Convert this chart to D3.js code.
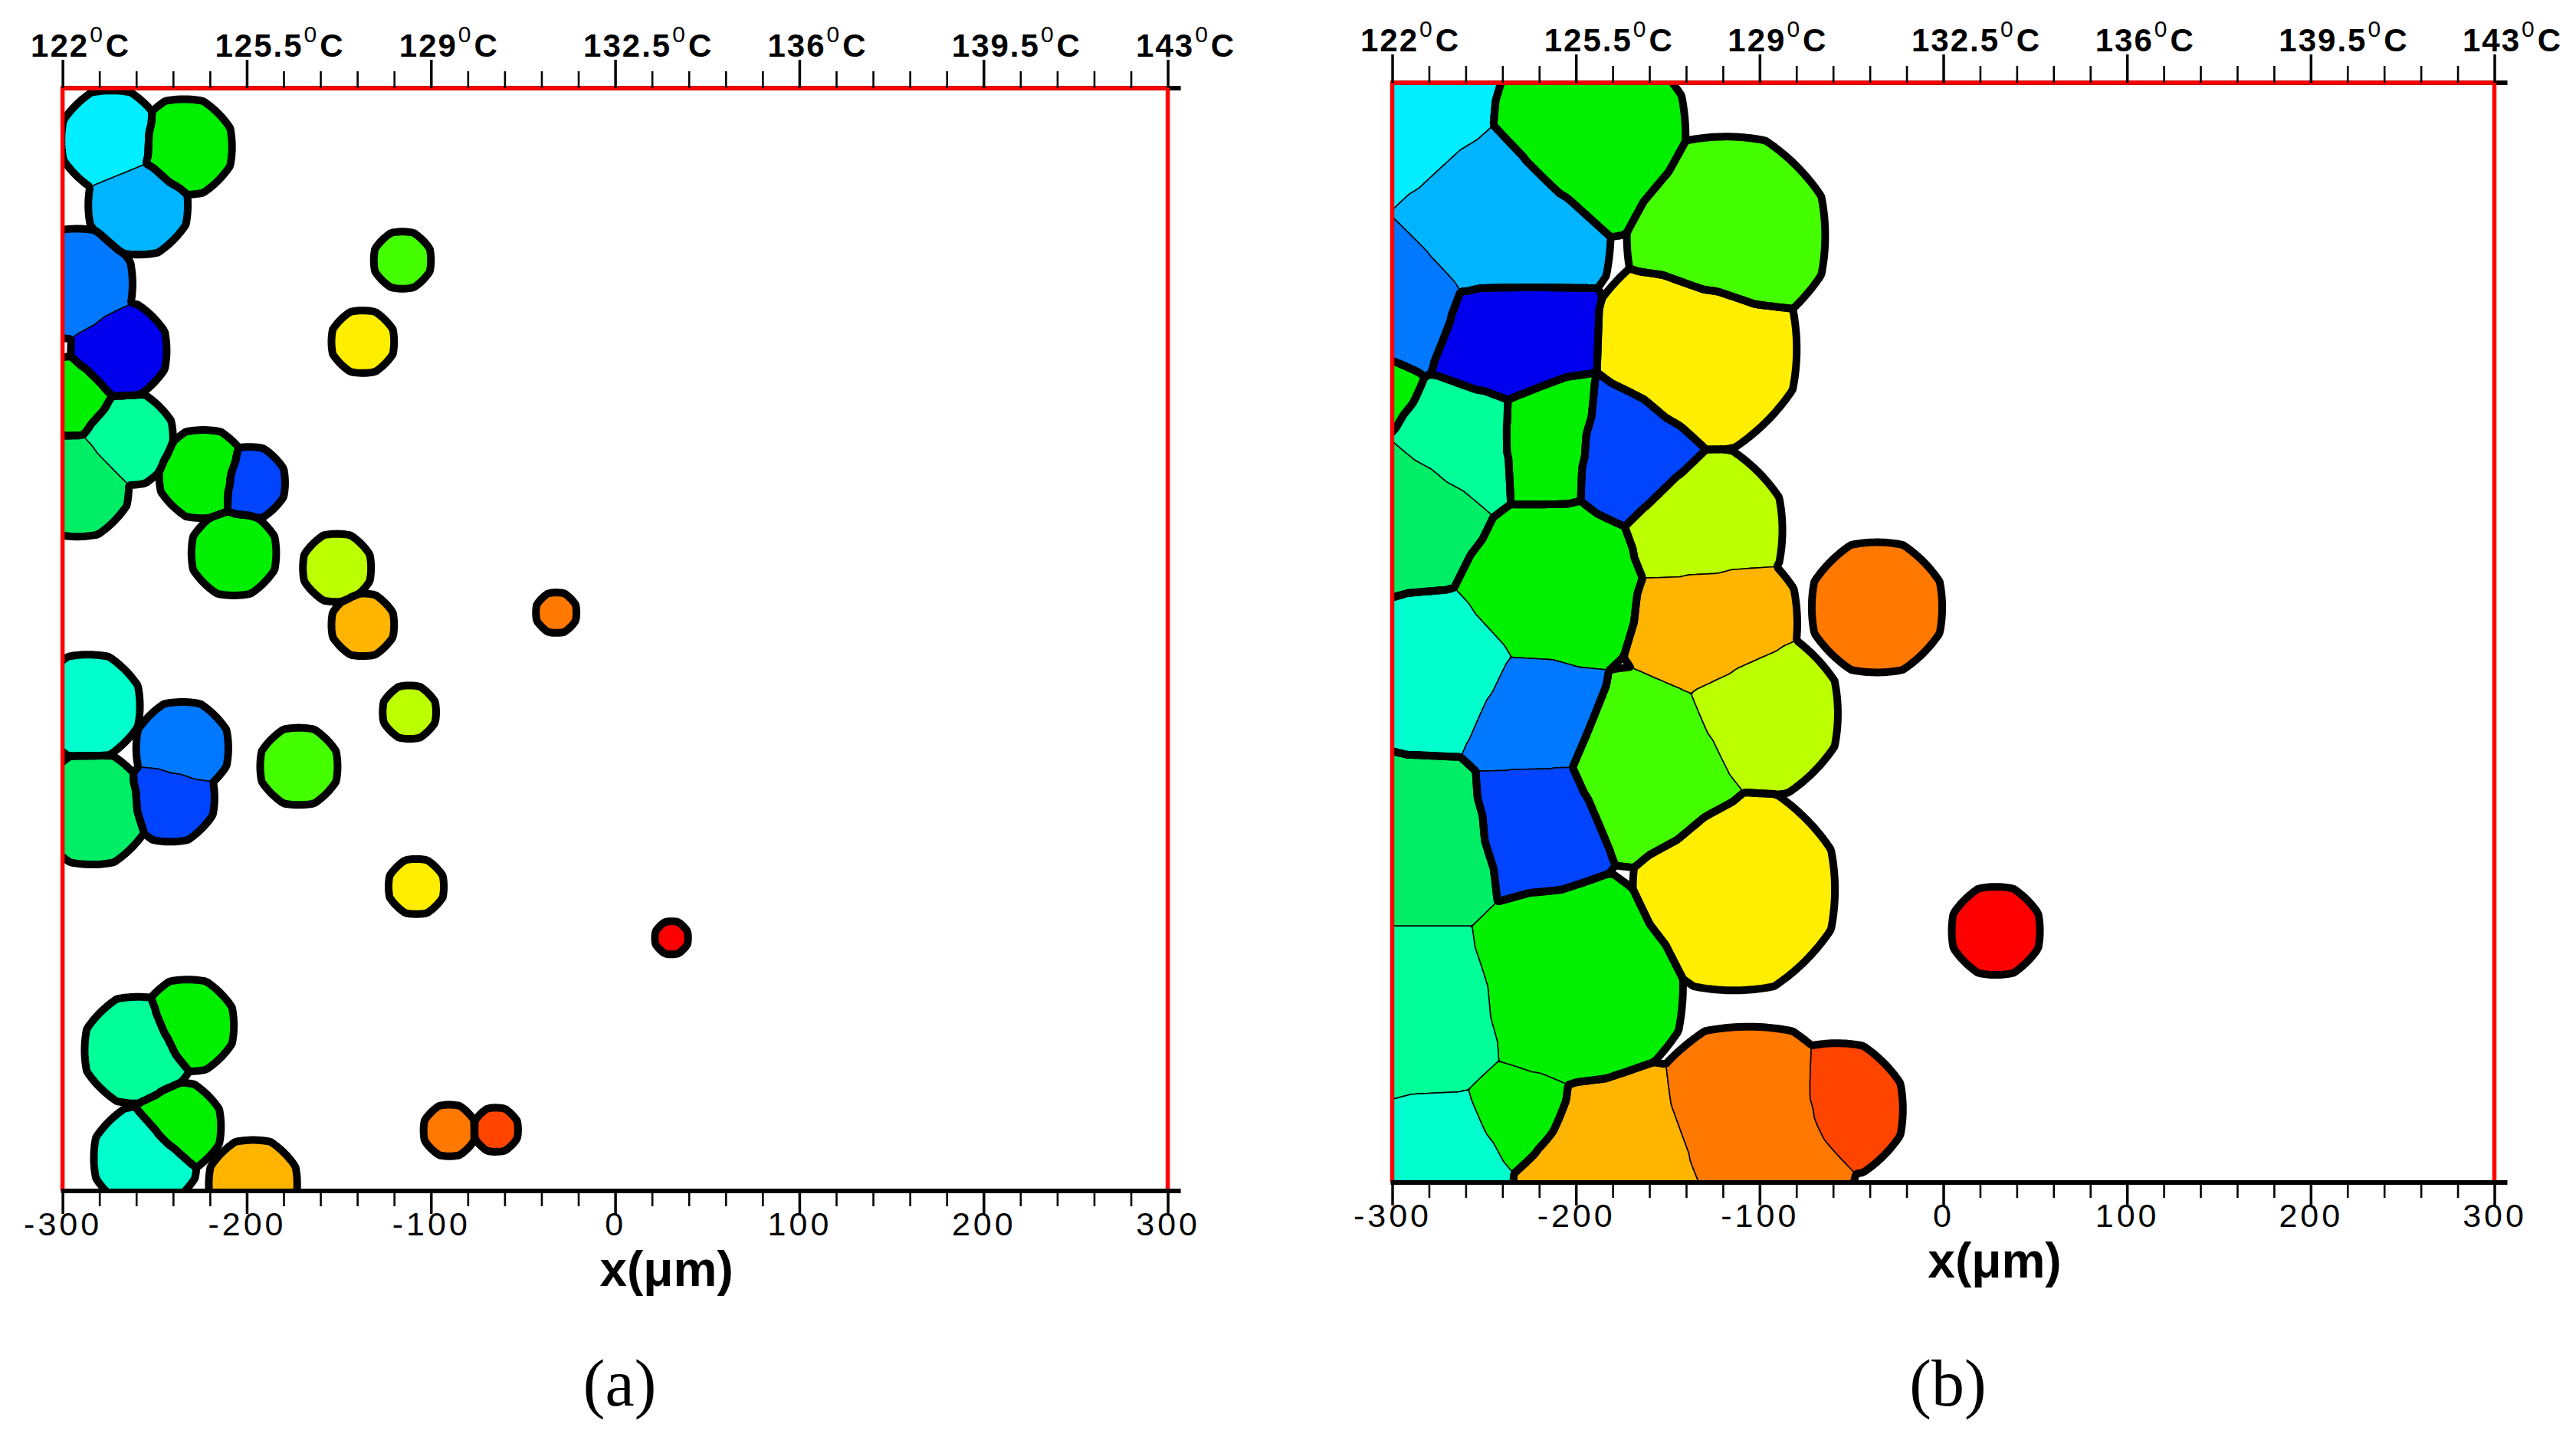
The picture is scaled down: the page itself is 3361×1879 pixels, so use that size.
<!DOCTYPE html>
<html>
<head>
<meta charset="utf-8">
<script src="https://cdn.jsdelivr.net/npm/d3@7"></script>
<style>
  body { margin: 0; background: #fff; }
</style>
</head>
<body>
<div id="chart"></div>
<script>
// ---- data ----
const tempTicks = [122, 125.5, 129, 132.5, 136, 139.5, 143];   // top axis, deg C
const xTicks = [-300, -200, -100, 0, 100, 200, 300];           // bottom axis, um
const panelLabels = ["(a)", "(b)"];

// orientation angle (deg) -> colour, jet-like
const orientAngles = [0, 6, 12, 18, 24, 30, 36, 42, 48, 54, 60, 66, 72, 78, 84, 90];
const orientColors = ["#0000ee", "#0044ff", "#0078ff", "#00b4ff", "#00eeff", "#00ffcc",
  "#00ff99", "#00ee66", "#00f000", "#44ff00", "#bbff00", "#ffee00", "#ffb400",
  "#ff7800", "#ff4400", "#ff0000"];

// panel (a): grain centres (um), radius (um), orientation (deg),
// cluster = grains that impinged early (thin boundary between them)
const grainA_x = [-273.6, -234, -259, -292, -269.5, -294, -265, -292, -223.6, -198.7, -207,
  -115.5, -137, -151, -137, -32, -286, -235, -241.5, -284, -171.7, -111.7, -108, 30.6,
  -90, -64.7, -259, -232, -238, -255, -196.6];
const grainA_y = [571.7, 568, 536.4, 493.5, 457.3, 432, 409, 384, 390, 385.3, 347,
  506.4, 462, 339, 308, 314.6, 263.8, 241, 214, 207.6, 231, 260.5, 165.6, 137.7,
  32.9, 33.3, 76.6, 90, 35, 18, 3.7];
const grainA_r = [27, 26, 27, 30, 26, 22, 25, 28, 24, 19.5, 23,
  15.5, 17, 18.5, 17, 11, 28, 25, 24, 30, 21, 14.5, 15, 9,
  14, 12, 29, 25, 24, 28, 24];
const grainA_theta = [24, 48, 18, 12, 0, 48, 36, 42, 48, 6, 48,
  54, 66, 60, 72, 78, 30, 12, 6, 42, 54, 60, 66, 90,
  78, 84, 36, 48, 48, 30, 72];
const grainA_cluster = [1, 2, 1, 3, 3, 4, 5, 5, 6, 7, 8,
  9, 10, 11, 12, 13, 14, 15, 15, 16, 17, 18, 19, 20,
  21, 22, 23, 24, 25, 26, 27];

// panel (b)
const grainB_x = [-305, -196.3, -118.3, -245, -292, -242.2, -135.8, -306.9, -261, -219.3,
  -174.2, -288.1, -132.6, -217.2, -127.5, -273.5, -36.1, -225.5, -160.8, -102.4,
  -114, -223.4, -281.9, -204.7, -281.9, -273.5, -229.7, -177, -106, -58, 28.6];
const grainB_y = [590, 570.8, 516.6, 520, 480, 462.3, 454.8, 433.1, 405.1, 406,
  399.7, 366.3, 355.9, 325.9, 305, 278.7, 313.8, 253.7, 226.6, 255.8,
  159.8, 197.4, 186.9, 107.6, 93, 9.6, 34.6, 0, 25, 40, 137.3];
const grainB_r = [68, 56, 54, 64, 56, 58, 56, 40, 55, 50,
  46, 55, 45, 58, 48, 55, 35.5, 50, 55, 45,
  55, 50, 55, 63, 55, 50, 40, 67, 60, 36, 24];
const grainB_theta = [24, 48, 54, 18, 12, 0, 66, 48, 36, 48,
  6, 42, 60, 48, 72, 30, 78, 12, 54, 60,
  66, 6, 42, 48, 36, 30, 48, 72, 78, 84, 90];
const grainB_cluster = [1, 2, 3, 1, 1, 4, 5, 6, 7, 8,
  9, 7, 10, 11, 10, 11, 12, 11, 10, 10,
  13, 11, 14, 14, 14, 14, 14, 15, 15, 15, 16];

// ---- layout ----
const W = 3361, H = 1879;
const panels = [
  {left: 81.6, top: 115, width: 1442, height: 1439,
   gx: grainA_x, gy: grainA_y, gr: grainA_r, gt: grainA_theta, gc: grainA_cluster},
  {left: 1816.5, top: 108, width: 1438, height: 1435,
   gx: grainB_x, gy: grainB_y, gr: grainB_r, gt: grainB_theta, gc: grainB_cluster}
];

const color = d3.scaleLinear().domain(orientAngles).range(orientColors);

// grid used to trace grain shapes (um)
const step = 1.5, gx0 = -312, gy1 = 612;
const nx = Math.round(624 / step), ny = Math.round(624 / step);
const contours = d3.contours().size([nx, ny]).thresholds([0]);

// rounded octagon distance (cellular automaton look)
function metric(dx, dy) {
  const ax = Math.abs(dx), ay = Math.abs(dy);
  const e = Math.sqrt(ax * ax + ay * ay);
  const o = Math.max(ax, ay, (ax + ay) * Math.SQRT1_2);
  return 0.5 * (e + o);
}

// every grain grows from its centre; a point belongs to whichever grain got there first.
// Returns the area held by the set of grains `members`.
function regionOf(members, gx, gy, gr) {
  const n = gx.length, inSet = new Uint8Array(n);
  members.forEach(g => { inSet[g] = 1; });
  const v = new Float32Array(nx * ny).fill(-1);
  let i0 = nx, i1 = 0, j0 = ny, j1 = 0;
  members.forEach(g => {
    const m = gr[g] * 1.15 + 4 * step;
    i0 = Math.min(i0, Math.max(0, Math.floor((gx[g] - m - gx0) / step)));
    i1 = Math.max(i1, Math.min(nx - 1, Math.ceil((gx[g] + m - gx0) / step)));
    j0 = Math.min(j0, Math.max(0, Math.floor((gy1 - gy[g] - m) / step)));
    j1 = Math.max(j1, Math.min(ny - 1, Math.ceil((gy1 - gy[g] + m) / step)));
  });
  for (let j = j0; j <= j1; j++) {
    const y = gy1 - (j + 0.5) * step;
    for (let i = i0; i <= i1; i++) {
      const x = gx0 + (i + 0.5) * step;
      let tin = Infinity, tout = Infinity;
      for (let g = 0; g < n; g++) {
        const t = metric(x - gx[g], y - gy[g]) - gr[g];
        if (inSet[g]) { if (t < tin) tin = t; } else if (t < tout) tout = t;
      }
      v[j * nx + i] = Math.min(-tin, tout - tin);
    }
  }
  return contours(v)[0];
}

const svg = d3.select("#chart").append("svg")
    .attr("width", W)
    .attr("height", H)
    .style("background", "#fff");

panels.forEach((pn, pi) => {
  const x = d3.scaleLinear().domain([-300, 300]).range([pn.left, pn.left + pn.width]);
  const y = d3.scaleLinear().domain([0, 600]).range([pn.top + pn.height, pn.top]);
  const temp = d3.scaleLinear().domain([122, 143]).range([pn.left, pn.left + pn.width]);
  const bottom = pn.top + pn.height, right = pn.left + pn.width;

  const g = svg.append("g");

  svg.append("clipPath").attr("id", "clip" + pi)
    .append("rect")
      .attr("x", pn.left).attr("y", pn.top)
      .attr("width", pn.width).attr("height", pn.height);

  const path = d3.geoPath(d3.geoTransform({
    point: function(X, Y) { this.stream.point(x(gx0 + X * step), y(gy1 - Y * step)); }
  }));

  const grainShapes = d3.range(pn.gx.length).map(i => regionOf([i], pn.gx, pn.gy, pn.gr));
  const clusterIds = Array.from(new Set(pn.gc));
  const clusterShapes = clusterIds.map(c =>
    regionOf(d3.range(pn.gx.length).filter(i => pn.gc[i] === c), pn.gx, pn.gy, pn.gr));

  const grains = g.append("g").attr("clip-path", "url(#clip" + pi + ")");

  // grain fill with thin grain boundaries
  grains.append("g").selectAll("path")
    .data(grainShapes)
    .enter().append("path")
      .attr("d", path)
      .attr("fill", (d, i) => color(pn.gt[i]))
      .attr("stroke", "#000")
      .attr("stroke-width", 1.6)
      .attr("stroke-linejoin", "round");

  // thick black rim against the liquid and between separate clusters
  grains.append("g").selectAll("path")
    .data(clusterShapes)
    .enter().append("path")
      .attr("d", path)
      .attr("fill", "none")
      .attr("stroke", "#000")
      .attr("stroke-width", 10)
      .attr("stroke-linejoin", "round");

  // black axis lines (top one sits under the red frame)
  g.append("line")
    .attr("x1", pn.left).attr("x2", right + 17)
    .attr("y1", pn.top).attr("y2", pn.top)
    .attr("stroke", "#000").attr("stroke-width", 6);

  // red frame
  g.append("path")
    .attr("d", `M${pn.left},${bottom}V${pn.top}H${right}V${bottom}`)
    .attr("fill", "none")
    .attr("stroke", "#ff0000")
    .attr("stroke-width", 5.5);

  g.append("line")
    .attr("x1", pn.left - 2).attr("x2", right + 17)
    .attr("y1", bottom).attr("y2", bottom)
    .attr("stroke", "#000").attr("stroke-width", 6);

  // bottom axis
  const xMinor = d3.range(xTicks[0], xTicks[xTicks.length - 1] + 1, 20).filter(v => !xTicks.includes(v));
  g.append("g")
    .attr("transform", `translate(0,${bottom})`)
    .call(d3.axisBottom(x).tickValues(xMinor).tickSize(20).tickFormat(""))
    .call(a => a.select(".domain").remove())
    .call(a => a.selectAll(".tick line").attr("stroke-width", 2.6));

  const xAxis = g.append("g")
    .attr("transform", `translate(0,${bottom})`)
    .call(d3.axisBottom(x).tickValues(xTicks).tickSize(30).tickFormat(d3.format("d")))
    .call(a => a.select(".domain").remove());
  xAxis.selectAll(".tick line").attr("stroke-width", 3.5);
  xAxis.selectAll(".tick text")
    .attr("y", 58).attr("dy", null)
    .attr("fill", "#000")
    .style("font-family", "'Liberation Sans', Arial, sans-serif")
    .style("font-size", "43px")
    .style("letter-spacing", "4px")
    .text(d => d < 0 ? "-" + Math.abs(d) : String(d));

  // top temperature axis
  const span = tempTicks[1] - tempTicks[0];
  const tMinor = d3.range(tempTicks.length - 1).flatMap(k =>
    d3.range(1, 5).map(m => tempTicks[k] + span * m / 5));
  g.append("g")
    .attr("transform", `translate(0,${pn.top})`)
    .call(d3.axisTop(temp).tickValues(tMinor).tickSize(22).tickFormat(""))
    .call(a => a.select(".domain").remove())
    .call(a => a.selectAll(".tick line").attr("stroke-width", 2.6));

  const tAxis = g.append("g")
    .attr("transform", `translate(0,${pn.top})`)
    .call(d3.axisTop(temp).tickValues(tempTicks).tickSize(37).tickFormat(String))
    .call(a => a.select(".domain").remove());
  tAxis.selectAll(".tick line").attr("stroke-width", 3.5);
  tAxis.selectAll(".tick text").each(function(d) {
    const t = d3.select(this);
    t.text(null)
      .attr("text-anchor", "start")
      .attr("x", -42).attr("y", -41).attr("dy", null)
      .attr("fill", "#000")
      .style("font-family", "'Liberation Sans', Arial, sans-serif")
      .style("font-size", "42px")
      .style("font-weight", "bold")
      .style("letter-spacing", "2px");
    t.append("tspan").text(String(d));
    t.append("tspan")
      .attr("dy", -19).attr("dx", 1)
      .style("font-size", "30px")
      .style("font-weight", "normal")
      .style("letter-spacing", "0px")
      .text("0");
    t.append("tspan")
      .attr("dy", 19).attr("dx", 4)
      .text("C");
  });

  // axis title
  g.append("text")
    .attr("x", x(0) + 67)
    .attr("y", bottom + 124)
    .attr("text-anchor", "middle")
    .style("font-family", "'Liberation Sans', Arial, sans-serif")
    .style("font-size", "64px")
    .style("font-weight", "bold")
    .text("x(μm)");

  // panel caption
  g.append("text")
    .attr("x", x(0) + 6)
    .attr("y", 1834)
    .attr("text-anchor", "middle")
    .style("font-family", "'Liberation Serif', 'Times New Roman', serif")
    .style("font-size", "86px")
    .text(panelLabels[pi]);
});
</script>
</body>
</html>
